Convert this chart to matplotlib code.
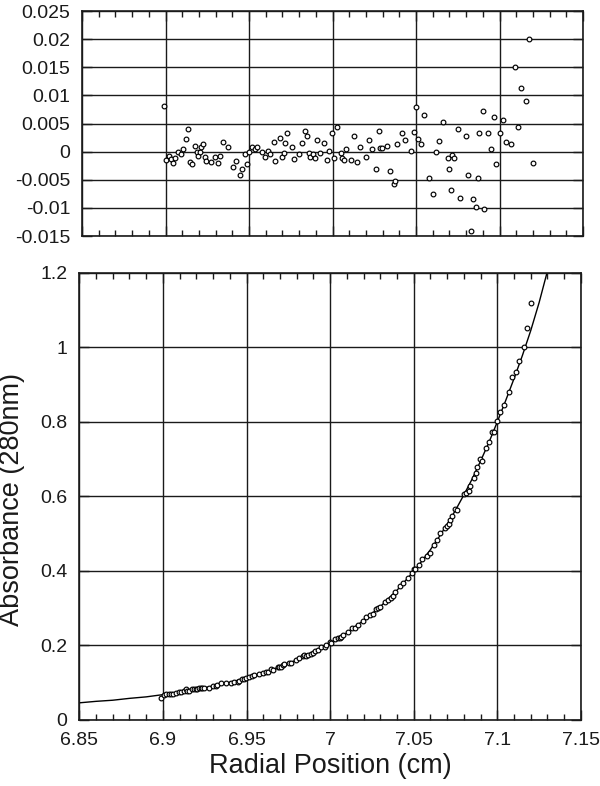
import matplotlib
matplotlib.use("Agg")
import matplotlib.pyplot as plt
from matplotlib.ticker import MultipleLocator

plt.rcParams['font.family'] = ['Liberation Sans', 'DejaVu Sans']

# radial positions of the scans (cm), shared by both panels
radius = [
    6.8990, 6.9004, 6.9020, 6.9034, 6.9046, 6.9058, 6.9076, 6.9094, 6.9106, 6.9124,
    6.9136, 6.9146, 6.9158, 6.9176, 6.9186, 6.9196, 6.9205, 6.9214, 6.9226, 6.9235,
    6.9245, 6.9275, 6.9298, 6.9316, 6.9325, 6.9347, 6.9375, 6.9407, 6.9425, 6.9447,
    6.9457, 6.9475, 6.9485, 6.9497, 6.9517, 6.9535, 6.9547, 6.9577, 6.9597, 6.9615,
    6.9627, 6.9647, 6.9657, 6.9687, 6.9697, 6.9707, 6.9717, 6.9727, 6.9757, 6.9767,
    6.9797, 6.9816, 6.9837, 6.9846, 6.9858, 6.9866, 6.9886, 6.9896, 6.9908, 6.9926,
    6.9948, 6.9968, 6.9978, 6.9998, 7.0008, 7.0028, 7.0048, 7.0058, 7.0068, 7.0078,
    7.0108, 7.0128, 7.0148, 7.0166, 7.0198, 7.0217, 7.0238, 7.0259, 7.0277, 7.0287,
    7.0297, 7.0327, 7.0347, 7.0367, 7.0377, 7.0387, 7.0417, 7.0437, 7.0467, 7.0487,
    7.0499, 7.0509, 7.0529, 7.0549, 7.0579, 7.0599, 7.0619, 7.0639, 7.0659, 7.0689,
    7.0699, 7.0711, 7.0717, 7.0729, 7.0749, 7.0761, 7.0799, 7.0811, 7.0829, 7.0839,
    7.0861, 7.0871, 7.0879, 7.0899, 7.0909, 7.0931, 7.0951, 7.0969, 7.0978, 7.1000,
    7.1018, 7.1038, 7.1068, 7.1090, 7.1110, 7.1128, 7.1160, 7.1178, 7.1200,
]

residuals = [
    0.0081, -0.0015, -0.0007, -0.0013, -0.0021, -0.0012, -0.0001, -0.0004, 0.0005, 0.0022,
    0.0041, -0.0018, -0.0022, 0.0010, -0.0001, -0.0008, 0.0000, 0.0009, 0.0014, -0.0009,
    -0.0016, -0.0019, -0.0010, -0.0021, -0.0007, 0.0018, 0.0008, -0.0028, -0.0016, -0.0042,
    -0.0030, -0.0005, -0.0022, 0.0000, 0.0008, 0.0004, 0.0008, 0.0000, -0.0009, 0.0001,
    -0.0004, 0.0017, -0.0016, 0.0024, -0.0009, -0.0003, 0.0016, 0.0033, 0.0008, -0.0013,
    -0.0005, 0.0015, 0.0036, 0.0028, -0.0002, -0.0009, -0.0005, -0.0012, 0.0020, -0.0002,
    0.0016, -0.0015, 0.0001, 0.0033, -0.0011, 0.0043, -0.0002, -0.0012, -0.0014, 0.0005,
    -0.0015, 0.0028, -0.0018, 0.0008, -0.0009, 0.0021, 0.0005, -0.0030, 0.0037, 0.0006,
    0.0006, 0.0010, -0.0035, -0.0057, -0.0053, 0.0013, 0.0033, 0.0020, 0.0001, 0.0035,
    0.0079, 0.0023, 0.0013, 0.0066, -0.0047, -0.0075, -0.0001, 0.0019, 0.0052, -0.0012,
    -0.0031, -0.0068, -0.0006, -0.0012, 0.0040, -0.0083, 0.0027, -0.0041, -0.0141, -0.0084,
    -0.0098, -0.0047, 0.0034, 0.0072, -0.0102, 0.0034, 0.0005, 0.0062, -0.0022, 0.0034,
    0.0057, 0.0017, 0.0014, 0.0150, 0.0043, 0.0114, 0.0090, 0.0201, -0.0021,
]

absorbance = [
    0.060, 0.067, 0.069, 0.069, 0.069, 0.071, 0.073, 0.074, 0.076, 0.078,
    0.082, 0.077, 0.077, 0.082, 0.082, 0.082, 0.083, 0.085, 0.086, 0.085,
    0.085, 0.087, 0.090, 0.091, 0.093, 0.098, 0.100, 0.099, 0.103, 0.103,
    0.105, 0.110, 0.109, 0.113, 0.116, 0.118, 0.120, 0.124, 0.125, 0.129,
    0.130, 0.136, 0.134, 0.143, 0.141, 0.143, 0.147, 0.151, 0.153, 0.153,
    0.160, 0.165, 0.172, 0.173, 0.172, 0.173, 0.178, 0.180, 0.186, 0.188,
    0.195, 0.196, 0.201, 0.209, 0.207, 0.218, 0.219, 0.221, 0.223, 0.228,
    0.235, 0.246, 0.247, 0.256, 0.265, 0.275, 0.281, 0.285, 0.299, 0.300,
    0.304, 0.317, 0.321, 0.327, 0.332, 0.343, 0.360, 0.368, 0.381, 0.395,
    0.406, 0.406, 0.416, 0.433, 0.440, 0.449, 0.469, 0.484, 0.501, 0.516,
    0.521, 0.526, 0.537, 0.546, 0.566, 0.564, 0.605, 0.609, 0.615, 0.629,
    0.648, 0.663, 0.678, 0.701, 0.694, 0.729, 0.747, 0.772, 0.774, 0.803,
    0.826, 0.845, 0.879, 0.919, 0.933, 0.962, 1.000, 1.052, 1.120,
]

# fitted curve
fit_radius = [6.85, 6.86, 6.87, 6.88, 6.89, 6.90, 6.91, 6.92, 6.93, 6.94,
              6.95, 6.96, 6.97, 6.98, 6.99, 7.00, 7.01, 7.02, 7.03, 7.04,
              7.05, 7.055, 7.06, 7.065, 7.07, 7.075, 7.08, 7.085, 7.09, 7.095,
              7.10, 7.105, 7.11, 7.115, 7.12, 7.125, 7.13, 7.135]
fit_abs = [0.046, 0.050, 0.053, 0.058, 0.062, 0.068, 0.075, 0.082, 0.091, 0.101,
           0.113, 0.127, 0.143, 0.161, 0.182, 0.206, 0.234, 0.267, 0.304, 0.348,
           0.399, 0.427, 0.457, 0.490, 0.525, 0.563, 0.604, 0.647, 0.695, 0.745,
           0.800, 0.857, 0.916, 0.978, 1.045, 1.120, 1.205, 1.300]

x_ticks = [6.85, 6.9, 6.95, 7.0, 7.05, 7.1, 7.15]
x_labels = ['6.85', '6.9', '6.95', '7', '7.05', '7.1', '7.15']
resid_ticks = [-0.015, -0.01, -0.005, 0.0, 0.005, 0.01, 0.015, 0.02, 0.025]
resid_labels = ['-0.015', '-0.01', '-0.005', '0', '0.005', '0.01', '0.015', '0.02', '0.025']
abs_ticks = [0.0, 0.2, 0.4, 0.6, 0.8, 1.0, 1.2]
abs_labels = ['0', '0.2', '0.4', '0.6', '0.8', '1', '1.2']

ink = '#1a1a1a'

fig = plt.figure(figsize=(6, 7.86), dpi=100)
ax_top = fig.add_axes([0.1367, 0.6997, 0.835, 0.2863])
ax_bot = fig.add_axes([0.1322, 0.084, 0.836, 0.569])

for ax in (ax_top, ax_bot):
    ax.set_xlim(6.85, 7.15)
    ax.set_xticks(x_ticks)
    ax.xaxis.set_minor_locator(MultipleLocator(0.01))
    ax.tick_params(which='both', direction='in', top=True, right=True,
                   colors=ink, labelsize=14, pad=8.5)
    ax.tick_params(which='major', length=7, width=1)
    ax.tick_params(which='minor', length=4, width=1)
    ax.grid(True, which='major', color=ink, lw=1.0)
    ax.set_axisbelow(True)
    for s in ax.spines.values():
        s.set_color(ink)
        s.set_linewidth(1.2)

# residuals panel
ax_top.plot(radius, residuals, 'o', ms=3.4, mfc='white', mec='black', mew=0.85)
ax_top.set_ylim(-0.015, 0.025)
ax_top.set_yticks(resid_ticks)
ax_top.set_yticklabels(resid_labels)
ax_top.set_xticklabels([])

# absorbance panel
ax_bot.plot(fit_radius, fit_abs, '-', color='black', lw=1.0)
ax_bot.plot(radius, absorbance, 'o', ms=3.4, mfc='white', mec='black', mew=0.85)
ax_bot.set_ylim(0, 1.2)
ax_bot.set_yticks(abs_ticks)
ax_bot.set_yticklabels(abs_labels)
ax_bot.set_xticklabels(x_labels)

ax_bot.set_xlabel('Radial Position (cm)', fontsize=19.5, color=ink)
ax_bot.set_ylabel('Absorbance (280nm)', fontsize=19.5, color=ink)
ax_bot.xaxis.set_label_coords(0.5, -0.074)
ax_bot.yaxis.set_label_coords(-0.108, 0.494)

fig.savefig('out.png', dpi=100)
